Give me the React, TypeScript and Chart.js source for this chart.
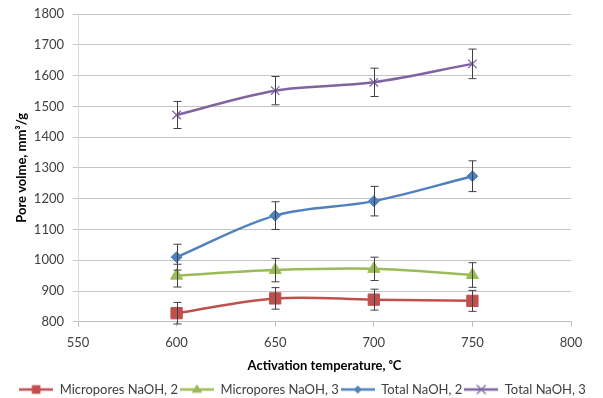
import React, { useEffect, useRef } from "react";
import { Chart, registerables } from "chart.js";

Chart.register(...registerables);

const temperatures = [600, 650, 700, 750];
const microNaOH2 = [828, 876, 872, 868];
const microNaOH3 = [950, 968, 972, 952];
const totalNaOH2 = [1010, 1145, 1192, 1273];
const totalNaOH3 = [1472, 1551, 1578, 1638];
const errMicro2 = [35, 35, 34, 34];
const errMicro3 = [37, 38, 38, 40];
const errTotal2 = [42, 45, 48, 50];
const errTotal3 = [44, 46, 46, 48];
const seriesNames = ["Micropores NaOH, 2", "Micropores NaOH, 3", "Total NaOH, 2", "Total NaOH, 3"];
const xTitle = "Activation temperature, ᵒC";
const yTitle = "Pore volme, mm³/g";

const colors = ["#C0504D", "#9BBB59", "#4F81BD", "#8064A2"];
const styles = ["rect", "triangle", "rectRot", "crossRot"];
const radii = [8, 7, 5.5, 6];
const ICON_W = 34;

function legendIcon(color: string, style: string, r: number) {
  const c = document.createElement("canvas");
  c.width = ICON_W;
  c.height = 14;
  const m = ICON_W / 2;
  const ctx = c.getContext("2d")!;
  ctx.strokeStyle = color;
  ctx.lineWidth = 2.5;
  ctx.beginPath();
  ctx.moveTo(0, 7);
  ctx.lineTo(ICON_W, 7);
  ctx.stroke();
  ctx.fillStyle = color;
  ctx.lineWidth = 1;
  const s = r * 0.75;
  ctx.beginPath();
  if (style === "rect") {
    ctx.fillRect(m - s * 0.72, 7 - s * 0.72, s * 1.44, s * 1.44);
  } else if (style === "triangle") {
    ctx.moveTo(m, 7 - s);
    ctx.lineTo(m + s, 7 + s * 0.6);
    ctx.lineTo(m - s, 7 + s * 0.6);
    ctx.closePath();
    ctx.fill();
  } else if (style === "rectRot") {
    ctx.moveTo(m, 7 - s);
    ctx.lineTo(m + s, 7);
    ctx.lineTo(m, 7 + s);
    ctx.lineTo(m - s, 7);
    ctx.closePath();
    ctx.fill();
  } else {
    ctx.lineWidth = 1.2;
    ctx.moveTo(m - s, 7 - s);
    ctx.lineTo(m + s, 7 + s);
    ctx.moveTo(m + s, 7 - s);
    ctx.lineTo(m - s, 7 + s);
    ctx.stroke();
  }
  return c;
}

const errorBarPlugin = {
  id: "errorBars",
  afterDatasetsDraw(chart: any) {
    const ctx = chart.ctx;
    const xs = chart.scales.x;
    const ys = chart.scales.y;
    ctx.save();
    ctx.strokeStyle = "#404040";
    ctx.lineWidth = 1;
    chart.data.datasets.forEach((ds: any) => {
      ds.data.forEach((pt: any, i: number) => {
        const e = ds.errors[i];
        const x = Math.round(xs.getPixelForValue(pt.x)) + 0.5;
        const yt = ys.getPixelForValue(pt.y + e);
        const yb = ys.getPixelForValue(pt.y - e);
        ctx.beginPath();
        ctx.moveTo(x, yt);
        ctx.lineTo(x, yb);
        ctx.moveTo(x - 4, yt);
        ctx.lineTo(x + 4, yt);
        ctx.moveTo(x - 4, yb);
        ctx.lineTo(x + 4, yb);
        ctx.stroke();
      });
    });
    ctx.restore();
  },
};

export default function App() {
  const ref = useRef<HTMLCanvasElement>(null);
  useEffect(() => {
    document.body.style.margin = "0";
    const all = [microNaOH2, microNaOH3, totalNaOH2, totalNaOH3];
    const errs = [errMicro2, errMicro3, errTotal2, errTotal3];
    const chart = new Chart(ref.current!, {
      type: "line",
      data: {
        datasets: all.map((vals, k) => ({
          label: seriesNames[k],
          data: vals.map((v, i) => ({ x: temperatures[i], y: v })),
          errors: errs[k],
          borderColor: colors[k],
          backgroundColor: colors[k],
          borderWidth: 2.5,
          pointStyle: styles[k] as any,
          pointRadius: radii[k],
          pointBorderWidth: k === 3 ? 1.3 : 1,
          pointBackgroundColor: colors[k],
          pointBorderColor: colors[k],
          tension: 0.35,
        })) as any,
      },
      options: {
        animation: false,
        responsive: false,
        layout: { padding: { left: 4, right: 2, top: 0, bottom: -8 } },
        plugins: {
          tooltip: { enabled: false },
          legend: {
            position: "bottom",
            labels: {
              usePointStyle: true,
              pointStyleWidth: ICON_W,
              boxHeight: 12,
              padding: 2,
              color: "#404040",
              font: { family: "Lato", size: 13 },
              generateLabels: (ch: any) =>
                ch.data.datasets.map((ds: any, i: number) => ({
                  text: ds.label,
                  pointStyle: legendIcon(colors[i], styles[i], radii[i]),
                  fillStyle: colors[i],
                  strokeStyle: colors[i],
                  lineWidth: 0,
                  hidden: false,
                  datasetIndex: i,
                  fontColor: "#404040",
                })),
            },
          },
        },
        scales: {
          x: {
            type: "linear",
            min: 550,
            max: 800,
            afterFit: (s: any) => {
              s.paddingRight = 32;
            },
            ticks: {
              stepSize: 50,
              color: "#404040",
              font: { family: "Lato", size: 13 },
              padding: 8,
              callback: (v: any) => String(v),
            },
            grid: { drawOnChartArea: false, drawTicks: true, tickLength: 5, color: "#BFBFBF" },
            border: { color: "#BFBFBF" },
            title: {
              display: true,
              text: xTitle,
              color: "#000",
              font: { family: "Lato", size: 13, weight: "bold" },
              padding: { top: 0, bottom: 7 },
            },
          },
          y: {
            min: 800,
            max: 1800,
            afterFit: (s: any) => {
              s.width = 74;
              s.paddingTop = 14;
            },
            ticks: {
              stepSize: 100,
              color: "#404040",
              font: { family: "Lato", size: 13 },
              padding: 9,
              callback: (v: any) => String(v),
            },
            grid: { color: "#C4C4C4", tickLength: 5, lineWidth: 1 },
            border: { color: "#D9D9D9" },
            title: {
              display: true,
              text: yTitle,
              color: "#000",
              font: { family: "Lato", size: 13, weight: "bold" },
              padding: { top: 10, bottom: 6 },
            },
          },
        },
      },
      plugins: [errorBarPlugin],
    });
    return () => chart.destroy();
  }, []);
  return (
    <div style={{ width: 603, height: 398, background: "#fff" }}>
      <canvas ref={ref} width={603} height={398} />
    </div>
  );
}
